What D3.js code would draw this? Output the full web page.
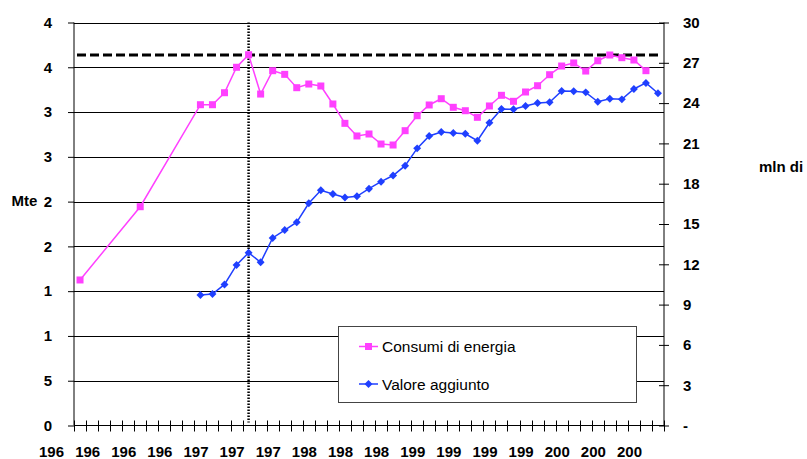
<!DOCTYPE html>
<html>
<head>
<meta charset="utf-8">
<script src="https://cdn.jsdelivr.net/npm/d3@7"></script>
<style>
  html, body { margin: 0; padding: 0; background: #fff; }
  svg { display: block; font-family: "Liberation Sans", Arial, sans-serif; }
</style>
</head>
<body>
<svg id="chart" width="807" height="459"></svg>
<script>
// ---- data ----
const years = d3.range(1960, 2009); // 1960..2008 categories
const consumiYears = [1960, 1965, 1970, 1971, 1972, 1973, 1974, 1975, 1976, 1977, 1978, 1979, 1980, 1981, 1982, 1983, 1984, 1985, 1986, 1987, 1988, 1989, 1990, 1991, 1992, 1993, 1994, 1995, 1996, 1997, 1998, 1999, 2000, 2001, 2002, 2003, 2004, 2005, 2006, 2007];
const consumiValues = [1625, 2443, 3582, 3582, 3716, 4000, 4140, 3701, 3962, 3921, 3772, 3813, 3791, 3590, 3374, 3233, 3255, 3143, 3132, 3292, 3459, 3579, 3649, 3553, 3515, 3441, 3568, 3687, 3620, 3724, 3794, 3917, 4014, 4048, 3958, 4073, 4137, 4107, 4081, 3962];
const valoreYears = [1970, 1971, 1972, 1973, 1974, 1975, 1976, 1977, 1978, 1979, 1980, 1981, 1982, 1983, 1984, 1985, 1986, 1987, 1988, 1989, 1990, 1991, 1992, 1993, 1994, 1995, 1996, 1997, 1998, 1999, 2000, 2001, 2002, 2003, 2004, 2005, 2006, 2007, 2008];
const valoreValues = [9.71, 9.79, 10.5, 11.95, 12.86, 12.15, 13.96, 14.55, 15.13, 16.54, 17.51, 17.23, 16.97, 17.06, 17.63, 18.15, 18.61, 19.34, 20.63, 21.55, 21.85, 21.77, 21.72, 21.2, 22.54, 23.56, 23.54, 23.78, 24.01, 24.06, 24.9, 24.88, 24.8, 24.1, 24.33, 24.28, 25.05, 25.5, 24.73];
const leftTicks = [0, 500, 1000, 1500, 2000, 2500, 3000, 3500, 4000, 4500];
const rightTicks = [0, 3, 6, 9, 12, 15, 18, 21, 24, 27, 30];
const xLabelYears = [1960, 1963, 1966, 1969, 1972, 1975, 1978, 1981, 1984, 1987, 1990, 1993, 1996, 1999, 2002, 2005, 2008];
const xTickLabels = ["196", "196", "196", "196", "197", "197", "197", "198", "198", "198", "199", "199", "199", "199", "200", "200", "200"];
const refLevel = 4137;      // dashed horizontal reference (Mte axis)
const refYear = 1974;       // dotted vertical reference
const seriesNames = ["Consumi di energia", "Valore aggiunto"];
const leftTitle = "Mte";
const rightTitle = "mln di";

// ---- layout ----
const L = 74, R = 664, T = 22.5, B = 425.5;
const PINK = "#FF40FF", BLUE = "#1F3FFF";
const svg = d3.select("#chart");

const x = d3.scaleBand().domain(years).range([L, R]).padding(0);
const cx = d => x(d) + x.bandwidth() / 2;
const yL = d3.scaleLinear().domain([0, 4500]).range([B, T]);
const yR = d3.scaleLinear().domain([0, 30]).range([B, T]);

// gridlines
svg.append("g").selectAll("line").data(leftTicks.filter(d => d > 0)).join("line")
  .attr("x1", L).attr("x2", R)
  .attr("y1", d => Math.round(yL(d)) + 0.5).attr("y2", d => Math.round(yL(d)) + 0.5)
  .attr("stroke", "#000").attr("stroke-width", 1);

// left axis
const gL = svg.append("g").attr("transform", `translate(${L},0)`)
  .call(d3.axisLeft(yL).tickValues(leftTicks).tickSize(6).tickPadding(16)
    .tickFormat(d => String(d)[0]));
gL.select(".domain").attr("stroke", "#000").attr("d", `M0,${T}V${B}`);
gL.selectAll(".tick line").attr("stroke", "#000");
gL.selectAll(".tick text").attr("font-size", 15).attr("font-weight", "bold")
  .attr("font-family", "Liberation Sans, Arial, sans-serif").attr("fill", "#000");

// right axis
const gR = svg.append("g").attr("transform", `translate(${R},0)`)
  .call(d3.axisRight(yR).tickValues(rightTicks).tickSize(5).tickPadding(14)
    .tickFormat(d => d === 0 ? "-" : d));
gR.select(".domain").attr("stroke", "#000").attr("d", `M0,${T}V${B}`);
gR.selectAll(".tick line").attr("stroke", "#000").attr("x1", -5).attr("x2", 5);
gR.selectAll(".tick text").attr("font-size", 15).attr("font-weight", "bold")
  .attr("font-family", "Liberation Sans, Arial, sans-serif").attr("fill", "#000");

// bottom axis
svg.append("line").attr("x1", L).attr("x2", R).attr("y1", B).attr("y2", B).attr("stroke", "#000");
const bounds = years.map(d => x(d)).concat([R]);
svg.append("g").selectAll("line").data(bounds).join("line")
  .attr("x1", d => Math.round(d) + 0.5).attr("x2", d => Math.round(d) + 0.5)
  .attr("y1", B - 5).attr("y2", B + 6).attr("stroke", "#000");
svg.append("g").selectAll("text").data(xLabelYears).join("text")
  .attr("x", d => cx(d) - 28.5).attr("y", 456.5)
  .attr("text-anchor", "middle").attr("font-size", 15).attr("font-weight", "bold")
  .text((d, i) => xTickLabels[i]);

// axis titles
svg.append("text").attr("x", 11.5).attr("y", 206).attr("font-size", 15).attr("font-weight", "bold").text(leftTitle);
svg.append("text").attr("x", 759).attr("y", 172).attr("font-size", 15).attr("font-weight", "bold").text(rightTitle);

// reference lines
svg.append("line").attr("x1", L + 3).attr("x2", R - 5)
  .attr("y1", yL(refLevel)).attr("y2", yL(refLevel))
  .attr("stroke", "#000").attr("stroke-width", 3).attr("stroke-dasharray", "9,4");
svg.append("line").attr("x1", cx(refYear)).attr("x2", cx(refYear))
  .attr("y1", T).attr("y2", B - 3)
  .attr("stroke", "#000").attr("stroke-width", 2.5).attr("stroke-dasharray", "1.5,1.5");

// series
const consumi = consumiYears.map((d, i) => [d, consumiValues[i]]);
const valore = valoreYears.map((d, i) => [d, valoreValues[i]]);

svg.append("path").datum(consumi)
  .attr("d", d3.line().x(d => cx(d[0])).y(d => yL(d[1])))
  .attr("fill", "none").attr("stroke", PINK).attr("stroke-width", 1.5);
svg.append("g").selectAll("rect").data(consumi).join("rect")
  .attr("x", d => cx(d[0]) - 3.5).attr("y", d => yL(d[1]) - 3.5)
  .attr("width", 7).attr("height", 7).attr("fill", PINK);

svg.append("path").datum(valore)
  .attr("d", d3.line().x(d => cx(d[0])).y(d => yR(d[1])))
  .attr("fill", "none").attr("stroke", BLUE).attr("stroke-width", 1.5);
const diamond = d3.symbol().type(d3.symbolDiamond2).size(40);
svg.append("g").selectAll("path").data(valore).join("path")
  .attr("transform", d => `translate(${cx(d[0])},${yR(d[1])})`)
  .attr("d", diamond).attr("fill", BLUE);

// legend
const lg = svg.append("g");
lg.append("rect").attr("x", 338.5).attr("y", 326.5).attr("width", 298).attr("height", 76)
  .attr("fill", "#fff").attr("stroke", "#444").attr("stroke-width", 1);
const items = [
  { name: seriesNames[0], color: PINK, y: 346.5, shape: "sq" },
  { name: seriesNames[1], color: BLUE, y: 384, shape: "di" }
];
items.forEach(it => {
  lg.append("line").attr("x1", 359).attr("x2", 378).attr("y1", it.y).attr("y2", it.y)
    .attr("stroke", it.color).attr("stroke-width", 1.5);
  if (it.shape === "sq") {
    lg.append("rect").attr("x", 368.5 - 3.5).attr("y", it.y - 3.5).attr("width", 7).attr("height", 7).attr("fill", it.color);
  } else {
    lg.append("path").attr("transform", `translate(368.5,${it.y})`).attr("d", diamond).attr("fill", it.color);
  }
  lg.append("text").attr("x", 382).attr("y", it.y + 5.5).attr("font-size", 15.5).text(it.name);
});
</script>
</body>
</html>
